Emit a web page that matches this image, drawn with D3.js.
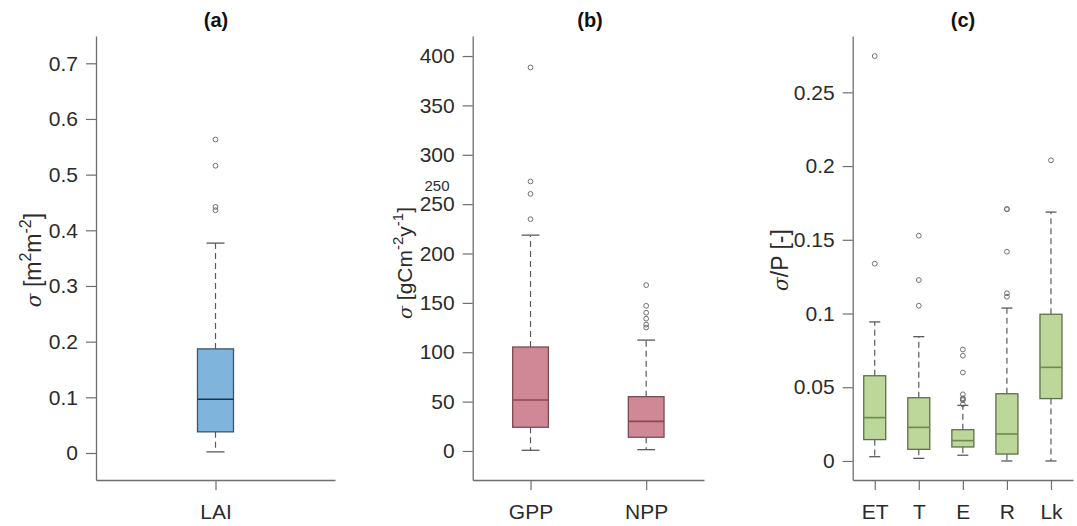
<!DOCTYPE html>
<html>
<head>
<meta charset="utf-8">
<script src="https://cdn.jsdelivr.net/npm/d3@7"></script>
<style>
  body { margin: 0; background: #fff; }
  svg { display: block; font-family: "Liberation Sans", Arial, sans-serif; }
</style>
</head>
<body>
<svg id="chart" width="1077" height="526"></svg>
<script>
// ---------- DATA ----------
// Panel (a)
const aCategories = ["LAI"];
const aQ1 = [0.038];
const aMedian = [0.0965];
const aQ3 = [0.187];
const aLow = [0.002];
const aHigh = [0.377];
const aOutliers = [[0.563, 0.516, 0.442, 0.436]];
const aTicks = [0, 0.1, 0.2, 0.3, 0.4, 0.5, 0.6, 0.7];

// Panel (b)
const bCategories = ["GPP", "NPP"];
const bQ1 = [24, 13.9];
const bMedian = [51.6, 30];
const bQ3 = [105.3, 55];
const bLow = [0.7, 1.3];
const bHigh = [218.6, 112.3];
const bOutliers = [[388.4, 273, 260.4, 234.8], [168, 147, 140, 134, 128, 125]];
const bTicks = [0, 50, 100, 150, 200, 250, 300, 350, 400];

// Panel (c)
const cCategories = ["ET", "T", "E", "R", "Lk"];
const cQ1 = [0.0145, 0.0079, 0.0095, 0.0047, 0.0423];
const cMedian = [0.0294, 0.0228, 0.0138, 0.0183, 0.0635];
const cQ3 = [0.0578, 0.0429, 0.0212, 0.0456, 0.0995];
const cLow = [0.0029, 0.0018, 0.0039, 0.0, 0.0];
const cHigh = [0.0943, 0.0843, 0.0377, 0.1037, 0.1688];
const cOutliers = [
  [0.2746, 0.1338],
  [0.1528, 0.1227, 0.1053],
  [0.0756, 0.0714, 0.0600, 0.0452, 0.0425, 0.0418, 0.0413, 0.0384],
  [0.1709, 0.1707, 0.1419, 0.1137, 0.1114],
  [0.2039]
];
const cTicks = [0, 0.05, 0.1, 0.15, 0.2, 0.25];

// ---------- DRAW ----------
const svg = d3.select("#chart");
const textColor = "#2b2b2b";
const axisColor = "#6e6e6e";
const yTop = 36, yBottom = 480;
const tickFont = 21;

function panel(opts) {
  const g = svg.append("g");
  const x = d3.scalePoint().domain(opts.categories).range([opts.x0, opts.x1]).padding(0.5);
  const y = d3.scaleLinear().domain(opts.yDomain).range([yBottom, yTop]);

  // y axis
  const ya = g.append("g").attr("transform", `translate(${opts.x0},0)`)
    .call(d3.axisLeft(y).tickValues(opts.ticks).tickSize(10).tickSizeOuter(0).tickPadding(8)
      .tickFormat(d3.format("~g")));
  ya.select(".domain").attr("stroke", axisColor).attr("stroke-width", 1.3);
  ya.selectAll(".tick line").attr("stroke", axisColor).attr("stroke-width", 1.2);
  ya.selectAll(".tick text").attr("fill", textColor).attr("font-size", tickFont)
    .attr("font-family", "Liberation Sans, Arial, sans-serif");

  // x axis
  const xa = g.append("g").attr("transform", `translate(0,${yBottom})`)
    .call(d3.axisBottom(x).tickSize(10).tickSizeOuter(0));
  xa.select(".domain").attr("stroke", axisColor).attr("stroke-width", 1.3);
  xa.selectAll(".tick line").attr("stroke", axisColor).attr("stroke-width", 1.2);
  xa.selectAll(".tick text").attr("fill", textColor).attr("font-size", tickFont)
    .attr("font-family", "Liberation Sans, Arial, sans-serif")
    .attr("y", 39).attr("dy", 0);

  const data = opts.categories.map((c, i) => ({
    c, q1: opts.q1[i], med: opts.median[i], q3: opts.q3[i],
    lo: opts.low[i], hi: opts.high[i], out: opts.outliers[i]
  }));
  const bw = opts.boxWidth, cw = opts.boxWidth / 2;
  const boxes = g.selectAll("g.box").data(data).join("g").attr("class", "box");

  // whiskers (dashed)
  boxes.append("line")
    .attr("x1", d => x(d.c)).attr("x2", d => x(d.c))
    .attr("y1", d => y(d.q3)).attr("y2", d => y(d.hi))
    .attr("stroke", "#5a5a5a").attr("stroke-width", 1.2).attr("stroke-dasharray", "6,4");
  boxes.append("line")
    .attr("x1", d => x(d.c)).attr("x2", d => x(d.c))
    .attr("y1", d => y(d.q1)).attr("y2", d => y(d.lo))
    .attr("stroke", "#5a5a5a").attr("stroke-width", 1.2).attr("stroke-dasharray", "6,4");
  // caps
  boxes.append("line")
    .attr("x1", d => x(d.c) - cw / 2).attr("x2", d => x(d.c) + cw / 2)
    .attr("y1", d => y(d.hi)).attr("y2", d => y(d.hi))
    .attr("stroke", "#5a5a5a").attr("stroke-width", 1.3);
  boxes.append("line")
    .attr("x1", d => x(d.c) - cw / 2).attr("x2", d => x(d.c) + cw / 2)
    .attr("y1", d => y(d.lo)).attr("y2", d => y(d.lo))
    .attr("stroke", "#5a5a5a").attr("stroke-width", 1.3);
  // box
  boxes.append("rect")
    .attr("x", d => x(d.c) - bw / 2).attr("width", bw)
    .attr("y", d => y(d.q3)).attr("height", d => y(d.q1) - y(d.q3))
    .attr("fill", opts.fill).attr("stroke", opts.stroke).attr("stroke-width", 1.3);
  // median
  boxes.append("line")
    .attr("x1", d => x(d.c) - bw / 2).attr("x2", d => x(d.c) + bw / 2)
    .attr("y1", d => y(d.med)).attr("y2", d => y(d.med))
    .attr("stroke", opts.medianColor).attr("stroke-width", 1.6);
  // outliers
  boxes.each(function (d) {
    d3.select(this).selectAll("circle").data(d.out).join("circle")
      .attr("cx", x(d.c)).attr("cy", v => y(v)).attr("r", 2.4)
      .attr("fill", "none").attr("stroke", "#707070").attr("stroke-width", 1);
  });

  // title
  g.append("text").attr("x", opts.titleX).attr("y", 27)
    .attr("text-anchor", "middle").attr("font-weight", "bold").attr("font-size", 20)
    .attr("fill", "#111").text(opts.title);

  // y label
  const lab = g.append("text")
    .attr("transform", `translate(${opts.labelX},${opts.labelY}) rotate(-90)`)
    .attr("text-anchor", "middle").attr("font-size", opts.labelFont).attr("fill", textColor);
  opts.label(lab);
  return { g, x, y };
}

function sigma(t, size) {
  t.append("tspan").attr("font-style", "italic").attr("font-family", "DejaVu Serif, serif")
    .attr("font-size", size).text("σ");
}

const pa = panel({
  categories: aCategories, q1: aQ1, median: aMedian, q3: aQ3, low: aLow, high: aHigh, outliers: aOutliers,
  ticks: aTicks, x0: 96, x1: 335, yDomain: [-0.0485, 0.749], boxWidth: 36,
  fill: "#7fb5dc", stroke: "#3f5566", medianColor: "#17354f",
  title: "(a)", titleX: 216, labelX: 41, labelY: 260, labelFont: 23,
  label: t => {
    sigma(t, 20);
    t.append("tspan").text(" [m");
    t.append("tspan").attr("font-size", 16).attr("dy", -10).text("2");
    t.append("tspan").attr("dy", 10).text("m");
    t.append("tspan").attr("font-size", 16).attr("dy", -10).text("-2");
    t.append("tspan").attr("dy", 10).text("]");
  }
});

const pb = panel({
  categories: bCategories, q1: bQ1, median: bMedian, q3: bQ3, low: bLow, high: bHigh, outliers: bOutliers,
  ticks: bTicks, x0: 472.7, x1: 704, yDomain: [-29.4, 420.3], boxWidth: 35.7,
  fill: "#d08896", stroke: "#7c4a53", medianColor: "#914555",
  title: "(b)", titleX: 590, labelX: 412, labelY: 263, labelFont: 21,
  label: t => {
    sigma(t, 19);
    t.append("tspan").text(" [gCm");
    t.append("tspan").attr("font-size", 15).attr("dy", -9).text("-2");
    t.append("tspan").attr("dy", 9).text("y");
    t.append("tspan").attr("font-size", 15).attr("dy", -9).text("-1");
    t.append("tspan").attr("dy", 9).text("]");
  }
});
// stray small label in panel (b)
pb.g.append("text").attr("x", 437).attr("y", 191).attr("text-anchor", "middle")
  .attr("font-size", 15).attr("fill", textColor).text("250");

const pc = panel({
  categories: cCategories, q1: cQ1, median: cMedian, q3: cQ3, low: cLow, high: cHigh, outliers: cOutliers,
  ticks: cTicks, x0: 852.7, x1: 1073, yDomain: [-0.0129, 0.2882], boxWidth: 22,
  fill: "#bcd799", stroke: "#5d6f4a", medianColor: "#6c8a4f",
  title: "(c)", titleX: 963, labelX: 788, labelY: 260, labelFont: 23,
  label: t => {
    sigma(t, 20);
    t.append("tspan").text("/P [-]");
  }
});
</script>
</body>
</html>
